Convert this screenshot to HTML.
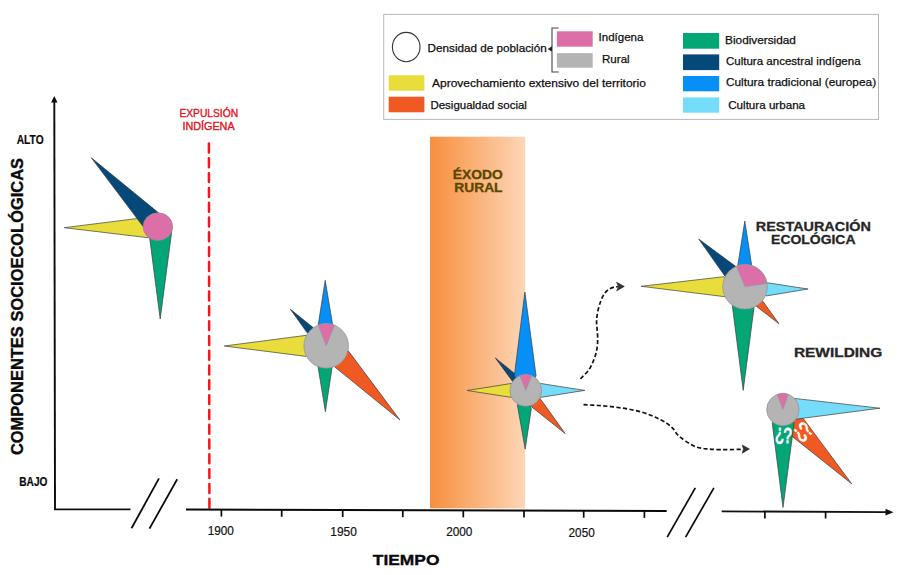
<!DOCTYPE html>
<html><head><meta charset="utf-8"><style>
html,body{margin:0;padding:0;background:#fff;width:900px;height:575px;overflow:hidden}
svg{display:block}
</style></head><body>
<svg width="900" height="575" viewBox="0 0 900 575">
<defs><linearGradient id="band" x1="0" y1="0" x2="1" y2="0">
<stop offset="0" stop-color="#F78F3E"/><stop offset="1" stop-color="#FDD6B6"/></linearGradient></defs>
<rect width="900" height="575" fill="#fff"/>
<rect x="383.7" y="14.4" width="494.8" height="105" fill="#fff" stroke="#b8b8b8" stroke-width="1"/>
<ellipse cx="406.2" cy="47.1" rx="13.8" ry="14.7" fill="none" stroke="#333" stroke-width="1.1"/>
<text x="427.6" y="51.7" font-family="&quot;Liberation Sans&quot;, sans-serif" font-size="11.8" font-weight="normal" fill="#0d0d0d" text-anchor="start" textLength="119.1" lengthAdjust="spacingAndGlyphs" stroke="#0d0d0d" stroke-width="0.25">Densidad de población</text>
<path d="M558.7,28 H552 V72 H558.7" fill="none" stroke="#444" stroke-width="1.1"/>
<path d="M547.7,49 L552,46.3 L552,51.7 Z" fill="#222"/>
<rect x="556.9" y="31.3" width="35.8" height="15.4" fill="#DD6FA8"/>
<rect x="556.9" y="53.1" width="35.8" height="14.6" fill="#B4B4B4"/>
<text x="598.6" y="41.3" font-family="&quot;Liberation Sans&quot;, sans-serif" font-size="11.8" font-weight="normal" fill="#0d0d0d" text-anchor="start" textLength="44.8" lengthAdjust="spacingAndGlyphs" stroke="#0d0d0d" stroke-width="0.25">Indígena</text>
<text x="602" y="62.9" font-family="&quot;Liberation Sans&quot;, sans-serif" font-size="11.8" font-weight="normal" fill="#0d0d0d" text-anchor="start" textLength="27.7" lengthAdjust="spacingAndGlyphs" stroke="#0d0d0d" stroke-width="0.25">Rural</text>
<rect x="388.7" y="75.3" width="35.7" height="15.4" fill="#E8DD3A"/>
<rect x="388.7" y="96.7" width="35.7" height="15.6" fill="#F05A22"/>
<text x="432" y="86.7" font-family="&quot;Liberation Sans&quot;, sans-serif" font-size="11.8" font-weight="normal" fill="#0d0d0d" text-anchor="start" textLength="213.9" lengthAdjust="spacingAndGlyphs" stroke="#0d0d0d" stroke-width="0.25">Aprovechamiento extensivo del territorio</text>
<text x="430.4" y="108.7" font-family="&quot;Liberation Sans&quot;, sans-serif" font-size="11.8" font-weight="normal" fill="#0d0d0d" text-anchor="start" textLength="96.5" lengthAdjust="spacingAndGlyphs" stroke="#0d0d0d" stroke-width="0.25">Desigualdad social</text>
<rect x="683" y="33" width="36.2" height="15.7" fill="#03A677"/>
<rect x="683" y="54.4" width="36.2" height="15.7" fill="#05487A"/>
<rect x="683" y="76" width="36.2" height="15.3" fill="#068FF6"/>
<rect x="683" y="97.4" width="36.2" height="15.3" fill="#75DCFA"/>
<text x="725.1" y="43.8" font-family="&quot;Liberation Sans&quot;, sans-serif" font-size="11.8" font-weight="normal" fill="#0d0d0d" text-anchor="start" textLength="70.8" lengthAdjust="spacingAndGlyphs" stroke="#0d0d0d" stroke-width="0.25">Biodiversidad</text>
<text x="725.9" y="65" font-family="&quot;Liberation Sans&quot;, sans-serif" font-size="11.8" font-weight="normal" fill="#0d0d0d" text-anchor="start" textLength="134.7" lengthAdjust="spacingAndGlyphs" stroke="#0d0d0d" stroke-width="0.25">Cultura ancestral indígena</text>
<text x="725.9" y="86.4" font-family="&quot;Liberation Sans&quot;, sans-serif" font-size="11.8" font-weight="normal" fill="#0d0d0d" text-anchor="start" textLength="150.2" lengthAdjust="spacingAndGlyphs" stroke="#0d0d0d" stroke-width="0.25">Cultura tradicional (europea)</text>
<text x="728.2" y="109.1" font-family="&quot;Liberation Sans&quot;, sans-serif" font-size="11.8" font-weight="normal" fill="#0d0d0d" text-anchor="start" textLength="76.9" lengthAdjust="spacingAndGlyphs" stroke="#0d0d0d" stroke-width="0.25">Cultura urbana</text>
<rect x="430" y="136.7" width="95.2" height="371.6" fill="url(#band)"/>
<text x="452.8" y="179.3" font-family="&quot;Liberation Sans&quot;, sans-serif" font-size="12.2" font-weight="bold" fill="#5A4700" text-anchor="start" textLength="50.1" lengthAdjust="spacingAndGlyphs" stroke="#5A4700" stroke-width="0.3">ÉXODO</text>
<text x="454.3" y="192" font-family="&quot;Liberation Sans&quot;, sans-serif" font-size="12.2" font-weight="bold" fill="#5A4700" text-anchor="start" textLength="48.2" lengthAdjust="spacingAndGlyphs" stroke="#5A4700" stroke-width="0.3">RURAL</text>
<line x1="208.9" y1="143.55" x2="209.4" y2="508" stroke="#F8141C" stroke-width="2.5" stroke-linecap="round" stroke-dasharray="8.95 5.85"/>
<text x="179.4" y="116.8" font-family="&quot;Liberation Sans&quot;, sans-serif" font-size="11" font-weight="normal" fill="#E8101A" text-anchor="start" textLength="58.7" lengthAdjust="spacingAndGlyphs" stroke="#E8101A" stroke-width="0.35">EXPULSIÓN</text>
<text x="182.4" y="129.5" font-family="&quot;Liberation Sans&quot;, sans-serif" font-size="11" font-weight="normal" fill="#E8101A" text-anchor="start" textLength="52.2" lengthAdjust="spacingAndGlyphs" stroke="#E8101A" stroke-width="0.35">INDÍGENA</text>
<line x1="55" y1="509.8" x2="54.3" y2="101" stroke="#0a0a0a" stroke-width="1.9"/>
<path d="M54.3,96 L51.1,102.5 L57.5,102.5 Z" fill="#0a0a0a"/>
<line x1="54" y1="509.3" x2="130.5" y2="509.3" stroke="#111" stroke-width="1.8"/>
<line x1="131.5" y1="528.3" x2="159" y2="478.4" stroke="#0a0a0a" stroke-width="1.8"/>
<line x1="149.5" y1="528.6" x2="177.2" y2="479.2" stroke="#0a0a0a" stroke-width="1.8"/>
<line x1="186" y1="509.5" x2="666.7" y2="511" stroke="#0a0a0a" stroke-width="2"/>
<line x1="221.4" y1="509.6" x2="221.4" y2="516.6" stroke="#0a0a0a" stroke-width="1.7"/>
<line x1="281.7" y1="509.8" x2="281.7" y2="516.8" stroke="#0a0a0a" stroke-width="1.7"/>
<line x1="342.7" y1="510" x2="342.7" y2="517" stroke="#0a0a0a" stroke-width="1.7"/>
<line x1="402.8" y1="510.2" x2="402.8" y2="517.2" stroke="#0a0a0a" stroke-width="1.7"/>
<line x1="463.3" y1="510.4" x2="463.3" y2="517.4" stroke="#0a0a0a" stroke-width="1.7"/>
<line x1="524" y1="510.6" x2="524" y2="517.6" stroke="#0a0a0a" stroke-width="1.7"/>
<line x1="583.7" y1="510.7" x2="583.7" y2="517.7" stroke="#0a0a0a" stroke-width="1.7"/>
<line x1="644.4" y1="510.9" x2="644.4" y2="517.9" stroke="#0a0a0a" stroke-width="1.7"/>
<line x1="667.2" y1="537.2" x2="695.3" y2="487.8" stroke="#0a0a0a" stroke-width="1.7"/>
<line x1="685.6" y1="537.2" x2="713.9" y2="487.8" stroke="#0a0a0a" stroke-width="1.7"/>
<line x1="721.7" y1="511.3" x2="887" y2="512.2" stroke="#111" stroke-width="1.8"/>
<path d="M893.5,512.2 L885.5,508.8 L885.5,515.6 Z" fill="#111"/>
<line x1="764.9" y1="511.5" x2="764.9" y2="518.5" stroke="#0a0a0a" stroke-width="1.7"/>
<line x1="825.6" y1="511.5" x2="825.6" y2="518.5" stroke="#0a0a0a" stroke-width="1.7"/>
<text x="207.7" y="535.1" font-family="&quot;Liberation Sans&quot;, sans-serif" font-size="12.4" font-weight="normal" fill="#111" text-anchor="start" textLength="26.2" lengthAdjust="spacingAndGlyphs" stroke="#111" stroke-width="0.2">1900</text>
<text x="330.3" y="535.6" font-family="&quot;Liberation Sans&quot;, sans-serif" font-size="12.4" font-weight="normal" fill="#111" text-anchor="start" textLength="26.6" lengthAdjust="spacingAndGlyphs" stroke="#111" stroke-width="0.2">1950</text>
<text x="446.2" y="535.8" font-family="&quot;Liberation Sans&quot;, sans-serif" font-size="12.4" font-weight="normal" fill="#111" text-anchor="start" textLength="26.2" lengthAdjust="spacingAndGlyphs" stroke="#111" stroke-width="0.2">2000</text>
<text x="568.6" y="536.9" font-family="&quot;Liberation Sans&quot;, sans-serif" font-size="12.4" font-weight="normal" fill="#111" text-anchor="start" textLength="26.1" lengthAdjust="spacingAndGlyphs" stroke="#111" stroke-width="0.2">2050</text>
<text x="372.8" y="564.7" font-family="&quot;Liberation Sans&quot;, sans-serif" font-size="15.2" font-weight="bold" fill="#0a0a0a" text-anchor="start" textLength="66.7" lengthAdjust="spacingAndGlyphs" stroke="#0a0a0a" stroke-width="0.35">TIEMPO</text>
<text x="16.7" y="143.6" font-family="&quot;Liberation Sans&quot;, sans-serif" font-size="12" font-weight="bold" fill="#0a0a0a" text-anchor="start" textLength="26.9" lengthAdjust="spacingAndGlyphs" stroke="#0a0a0a" stroke-width="0.2">ALTO</text>
<text x="19.3" y="486.3" font-family="&quot;Liberation Sans&quot;, sans-serif" font-size="11.9" font-weight="bold" fill="#0a0a0a" text-anchor="start" textLength="28.1" lengthAdjust="spacingAndGlyphs" stroke="#0a0a0a" stroke-width="0.2">BAJO</text>
<g transform="translate(0,613.3) rotate(-90)"><text x="158.2" y="22.9" font-family="&quot;Liberation Sans&quot;, sans-serif" font-size="16.4" font-weight="bold" fill="#0a0a0a" text-anchor="start" textLength="297.2" lengthAdjust="spacingAndGlyphs" stroke="#0a0a0a" stroke-width="0.35">COMPONENTES SOCIOECOLÓGICAS</text></g>
<text x="755.8" y="231.1" font-family="&quot;Liberation Sans&quot;, sans-serif" font-size="13.4" font-weight="bold" fill="#262626" text-anchor="start" textLength="115" lengthAdjust="spacingAndGlyphs" stroke="#262626" stroke-width="0.3">RESTAURACIÓN</text>
<text x="771.1" y="243.9" font-family="&quot;Liberation Sans&quot;, sans-serif" font-size="13.4" font-weight="bold" fill="#262626" text-anchor="start" textLength="84.4" lengthAdjust="spacingAndGlyphs" stroke="#262626" stroke-width="0.3">ECOLÓGICA</text>
<text x="793.9" y="356.9" font-family="&quot;Liberation Sans&quot;, sans-serif" font-size="13.2" font-weight="bold" fill="#262626" text-anchor="start" textLength="88.4" lengthAdjust="spacingAndGlyphs" stroke="#262626" stroke-width="0.3">REWILDING</text>
<path d="M580.4,378.8 C581.8,377.3 586.5,373.1 588.8,369.9 C591.1,366.7 592.6,362.9 594,359.4 C595.4,355.9 596.3,352.5 596.9,349 C597.5,345.5 597.7,342.1 597.7,338.6 C597.7,335.1 597.2,331.1 597,328 C596.8,324.9 596.4,322.9 596.6,320 C596.8,317.1 597.3,313.7 598,310.5 C598.7,307.3 599.7,303.9 600.8,301 C601.9,298.1 603.3,295.3 604.7,293.3 C606.1,291.3 607.8,290 609.4,289 C611,288 612.8,287.5 614.2,287.1 C615.6,286.7 617.4,286.8 618,286.7" fill="none" stroke="#111" stroke-width="1.7" stroke-dasharray="4.2 2.4"/>
<path d="M624.3,286.4 L616.6,282.3 L618.5,286.7 L616.6,290.9 Z" fill="#333" stroke="#222" stroke-width="0.6"/>
<path d="M583.5,404.7 C585.9,404.8 593.1,405.1 598,405.5 C602.9,405.9 608,406.2 613,406.8 C618,407.4 623,408.1 628,409 C633,409.9 638.3,411.1 643,412.5 C647.7,413.9 652,415.7 656,417.5 C660,419.3 663.9,421.5 666.7,423.3 C669.5,425.1 670.9,426.4 672.8,428.3 C674.6,430.2 675.7,432.9 677.8,435 C679.9,437.1 682.6,439.2 685.6,441.1 C688.6,443.1 692.1,445.4 695.6,446.7 C699.1,448 702.5,448.4 706.7,448.9 C711,449.4 715.9,449.6 721.1,449.7 C726.3,449.8 734.1,449.5 737.8,449.4 C741.4,449.3 742.1,449.2 743,449.1" fill="none" stroke="#111" stroke-width="1.7" stroke-dasharray="4.2 2.4"/>
<path d="M749.4,448.9 L742.2,445 L743.5,449 L742.2,453.3 Z" fill="#333" stroke="#222" stroke-width="0.6"/>
<polygon points="64.3,227.7 150,216.9 157.9,226.7 148.7,237.8" fill="#E8DD3A" stroke="#3c3c3c" stroke-width="0.7" stroke-linejoin="miter"/>
<polygon points="91.3,157.8 158.3,212.6 157.9,226.7 143.1,226.5" fill="#05487A" stroke="#3c3c3c" stroke-width="0.7" stroke-linejoin="miter"/>
<polygon points="160.2,319 149.7,238.2 157.9,226.7 171.7,231.5" fill="#03A677" stroke="#3c3c3c" stroke-width="0.7" stroke-linejoin="miter"/>
<ellipse cx="157.9" cy="226.7" rx="14.8" ry="13.9" fill="#DD6FA8" stroke="#8a8a8a" stroke-width="0.7"/>
<polygon points="224.3,346 306.4,335.3 326.2,345.9 306,356.4" fill="#E8DD3A" stroke="#3c3c3c" stroke-width="0.7" stroke-linejoin="miter"/>
<polygon points="290.2,309.1 313.1,327.6 326.2,345.9 307.1,332.7" fill="#05487A" stroke="#3c3c3c" stroke-width="0.7" stroke-linejoin="miter"/>
<polygon points="399.8,419.8 348.5,351.1 326.2,345.9 334.3,366.6" fill="#F05A22" stroke="#3c3c3c" stroke-width="0.7" stroke-linejoin="miter"/>
<polygon points="325.2,280.3 318.3,324.4 326.2,345.9 332.6,324.4" fill="#068FF6" stroke="#3c3c3c" stroke-width="0.7" stroke-linejoin="miter"/>
<polygon points="325.4,411.7 318,366.6 326.2,345.9 332.2,366.6" fill="#03A677" stroke="#3c3c3c" stroke-width="0.7" stroke-linejoin="miter"/>
<circle cx="326.2" cy="345.9" r="22.3" fill="#B4B4B4" stroke="#8f8f8f" stroke-width="0.7"/>
<path d="M326.2,345.9 L318.2,325.1 A22.3,22.3 0 0 1 334.6,325.2 Z" fill="#DD6FA8" stroke="#8f9a96" stroke-width="0.6"/>
<polygon points="467.2,390.5 511,383.5 525.8,390.4 511.3,397.4" fill="#E8DD3A" stroke="#3c3c3c" stroke-width="0.7" stroke-linejoin="miter"/>
<polygon points="495.3,357.9 517.4,375.7 525.8,390.4 512.2,380.9" fill="#05487A" stroke="#3c3c3c" stroke-width="0.7" stroke-linejoin="miter"/>
<polygon points="565.2,433.6 540,398.3 525.8,390.4 531.8,407" fill="#F05A22" stroke="#3c3c3c" stroke-width="0.7" stroke-linejoin="miter"/>
<polygon points="524.9,292.1 514.3,376 525.8,390.4 536.1,376" fill="#068FF6" stroke="#3c3c3c" stroke-width="0.7" stroke-linejoin="miter"/>
<polygon points="584.7,390.4 540.9,383.5 525.8,390.4 540.5,397.4" fill="#75DCFA" stroke="#3c3c3c" stroke-width="0.7" stroke-linejoin="miter"/>
<polygon points="525.2,449.1 517.4,405.2 525.8,390.4 531.3,408.7" fill="#03A677" stroke="#3c3c3c" stroke-width="0.7" stroke-linejoin="miter"/>
<circle cx="525.8" cy="390.4" r="15.9" fill="#B4B4B4" stroke="#8f8f8f" stroke-width="0.7"/>
<path d="M525.8,390.4 L519.7,375.7 A15.9,15.9 0 0 1 531.8,375.7 Z" fill="#DD6FA8" stroke="#8f9a96" stroke-width="0.6"/>
<polygon points="641.1,286.3 723.9,276.7 745,286.8 724.8,296.7" fill="#E8DD3A" stroke="#3c3c3c" stroke-width="0.7" stroke-linejoin="miter"/>
<polygon points="698.7,239 735.6,266.3 745,286.8 724.8,275.9" fill="#05487A" stroke="#3c3c3c" stroke-width="0.7" stroke-linejoin="miter"/>
<polygon points="779,323.8 762.9,301.3 745,286.8 756.5,306.4" fill="#F05A22" stroke="#3c3c3c" stroke-width="0.7" stroke-linejoin="miter"/>
<polygon points="744.8,221.1 737.8,265.4 745,286.8 751.7,265.4" fill="#068FF6" stroke="#3c3c3c" stroke-width="0.7" stroke-linejoin="miter"/>
<polygon points="808.1,289 767.4,282.8 745,286.8 766.5,295.9" fill="#75DCFA" stroke="#3c3c3c" stroke-width="0.7" stroke-linejoin="miter"/>
<polygon points="743.2,390.4 732.3,305.5 745,286.8 754.2,306.1" fill="#03A677" stroke="#3c3c3c" stroke-width="0.7" stroke-linejoin="miter"/>
<circle cx="745" cy="286.8" r="22.3" fill="#B4B4B4" stroke="#8f8f8f" stroke-width="0.7"/>
<path d="M745,286.8 L736.4,266.2 A22.3,22.3 0 0 1 767,283.4 Z" fill="#DD6FA8" stroke="#8f9a96" stroke-width="0.6"/>
<polygon points="851.7,483.8 803.6,418.9 782.9,409.6 790,434.7" fill="#F05A22" stroke="#3c3c3c" stroke-width="0.7" stroke-linejoin="miter"/>
<polygon points="880,408.2 794.5,398.4 782.9,409.6 796.5,419.1" fill="#75DCFA" stroke="#3c3c3c" stroke-width="0.7" stroke-linejoin="miter"/>
<polygon points="783,507.5 772.2,422.7 782.9,409.6 794.1,422.7" fill="#03A677" stroke="#3c3c3c" stroke-width="0.7" stroke-linejoin="miter"/>
<circle cx="782.9" cy="409.6" r="16.2" fill="#B4B4B4" stroke="#8f8f8f" stroke-width="0.7"/>
<path d="M782.9,409.6 L777.2,394.4 A16.2,16.2 0 0 1 788.4,394.3 Z" fill="#DD6FA8" stroke="#8f9a96" stroke-width="0.6"/>
<g transform="translate(783.4,435.6) rotate(0) scale(0.7,1)" font-family="&quot;Liberation Sans&quot;, sans-serif" font-size="21.4" fill="#fff" stroke="#fff" stroke-width="0.9"><text x="-0.03" y="7.6">?</text><text x="-12.17" y="3.96">¿</text></g>
<g transform="translate(802.8,431.9) rotate(-48) scale(0.7,1)" font-family="&quot;Liberation Sans&quot;, sans-serif" font-size="21.4" fill="#fff" stroke="#fff" stroke-width="0.9"><text x="-0.03" y="7.6">?</text><text x="-12.17" y="3.96">¿</text></g>
</svg>
</body></html>
